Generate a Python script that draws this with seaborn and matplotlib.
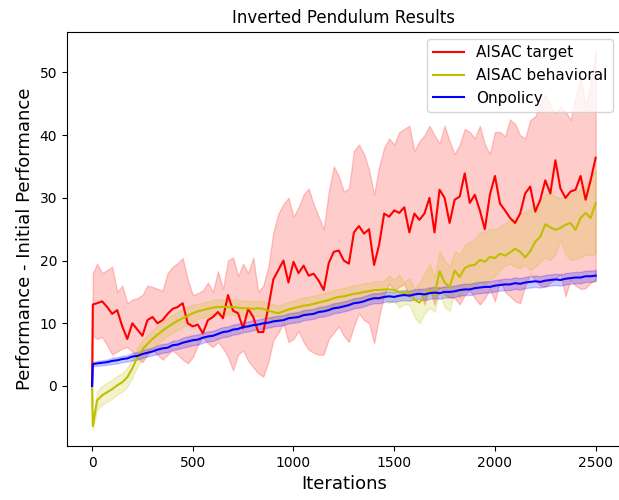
import numpy as np
import matplotlib
matplotlib.use("Agg")
import matplotlib.pyplot as plt
import seaborn as sns

# iteration grid (first point after the start is a tiny step to show the jump)
iters = [0, 4] + list(range(25, 2501, 25))

red_mean = [0, 13.0,
            13.2, 13.5, 12.6, 11.5, 12.1, 9.5, 7.5, 10.0, 9.0, 8.0,
            10.5, 11.0, 10.0, 10.5, 11.5, 12.3, 12.6, 13.2, 10.0, 9.5,
            9.8, 8.4, 10.5, 11.0, 11.8, 10.8, 14.5, 12.0, 11.6, 9.2,
            12.3, 11.0, 8.6, 8.6, 12.5, 17.0, 18.5, 20.0, 16.5, 19.8,
            18.0, 19.2, 17.6, 17.9, 16.8, 15.3, 19.6, 21.4, 21.6, 20.0,
            19.5, 24.5, 25.5, 24.3, 25.0, 19.3, 22.5, 27.5, 27.0, 28.0,
            27.6, 28.5, 24.5, 27.5, 26.5, 27.5, 30.0, 24.5, 31.3, 30.0,
            26.0, 29.7, 30.2, 33.9, 29.2, 30.5, 28.0, 25.0, 30.5, 33.5,
            29.1, 28.0, 26.8, 26.0, 27.5, 30.7, 31.8, 27.8, 29.7, 32.8,
            30.7, 36.0, 31.5, 30.0, 31.0, 31.3, 33.5, 29.7, 32.8, 36.4]
red_hi = [0, 18.0,
          19.5, 18.0, 18.5, 19.0, 15.0, 16.0, 13.2, 13.8, 14.0, 14.5,
          16.0, 15.8, 15.5, 15.2, 18.0, 19.0, 19.6, 20.4, 17.0, 14.5,
          14.8, 15.2, 16.5, 15.0, 18.3, 15.5, 20.0, 20.5, 17.5, 19.5,
          18.0, 20.5, 15.0, 16.0, 19.0, 24.5, 27.5, 29.0, 30.0, 27.0,
          28.5, 30.5, 31.5, 29.0, 27.0, 25.0, 31.0, 35.0, 33.5, 31.0,
          31.5, 37.5, 38.5, 37.0, 34.5, 30.5, 35.0, 38.0, 39.5, 38.5,
          40.5, 41.0, 41.5, 37.5, 39.0, 40.0, 41.5, 40.0, 38.7, 41.5,
          39.0, 37.0, 38.5, 41.0, 40.5, 39.5, 41.5, 38.5, 37.0, 40.5,
          40.5, 39.8, 42.5, 41.8, 40.0, 39.5, 42.4, 43.0, 45.0, 46.5,
          44.6, 43.5, 44.5, 43.8, 42.4, 46.0, 49.5, 44.6, 48.5, 53.5]
red_lo = [0, 8.0,
          7.5, 7.8, 6.5, 5.0, 5.5, 6.0, 6.2, 5.5, 4.5, 3.8,
          5.0, 5.7, 5.0, 4.2, 5.0, 5.7, 5.0, 4.2, 3.6, 4.6,
          6.5, 7.8, 6.8, 6.2, 7.0, 6.0, 4.6, 2.5, 5.0, 5.7,
          4.0, 3.0, 2.0, 1.5, 3.8, 7.3, 8.5, 10.0, 7.0, 7.5,
          8.8, 7.0, 5.8, 5.3, 5.0, 5.0, 7.5, 8.5, 9.5, 8.0,
          7.0, 9.5, 11.6, 10.5, 10.0, 6.8, 11.0, 14.5, 16.3, 15.3,
          15.8, 16.3, 14.2, 14.5, 15.3, 13.0, 15.8, 13.0, 15.8, 14.5,
          14.2, 14.0, 13.0, 14.5, 15.3, 14.0, 13.0, 14.0, 15.5, 13.5,
          16.9, 15.0, 14.3, 13.5, 13.2, 16.0, 17.9, 16.9, 16.0, 15.8,
          16.5, 17.0, 17.9, 14.3, 16.9, 16.0, 15.5, 15.6, 16.5, 16.9]

beh_mean = [0, -6.4,
            -2.3, -1.5, -1.0, -0.5, 0.1, 0.6, 1.4, 2.8, 4.6, 5.8,
            6.7, 7.5, 8.2, 8.8, 9.4, 9.9, 10.4, 10.8, 11.2, 11.6,
            11.9, 12.1, 12.3, 12.5, 12.6, 12.6, 12.6, 12.6, 12.5, 12.4,
            12.4, 12.3, 12.4, 12.3, 12.0, 11.8, 11.6, 11.9, 12.2, 12.4,
            12.6, 12.8, 12.9, 13.1, 13.3, 13.5, 13.7, 14.0, 14.2, 14.3,
            14.5, 14.7, 14.8, 15.0, 15.1, 15.3, 15.3, 15.4, 15.4, 15.3,
            15.0, 14.8, 15.0, 13.8, 13.3, 14.3, 15.3, 14.5, 18.3, 16.5,
            15.8, 18.4, 17.4, 18.8, 19.2, 19.3, 20.1, 19.8, 20.6, 20.4,
            21.1, 20.8, 21.3, 21.9, 21.4, 20.5, 21.5, 23.0, 23.8, 25.8,
            25.3, 24.9, 25.2, 25.7, 26.0, 24.9, 26.8, 27.6, 26.8, 29.2]
beh_hi = [0, -5.8,
          -0.8, 0.0, 0.5, 1.0, 1.6, 2.1, 2.9, 4.3, 6.1, 7.3,
          8.1, 8.9, 9.6, 10.2, 10.8, 11.3, 11.8, 12.2, 12.6, 13.0,
          13.1, 13.3, 13.5, 13.7, 13.8, 13.8, 13.8, 13.8, 13.7, 13.6,
          13.6, 13.5, 13.6, 13.5, 13.2, 13.0, 12.8, 13.1, 13.4, 13.6,
          13.9, 14.1, 14.2, 14.4, 14.6, 14.8, 15.0, 15.3, 15.5, 15.6,
          15.9, 16.1, 16.2, 16.4, 16.5, 16.7, 16.7, 16.8, 17.6, 16.9,
          17.8, 16.5, 17.2, 15.5, 16.5, 18.0, 19.5, 17.5, 21.5, 20.0,
          19.0, 21.5, 21.0, 22.5, 23.0, 23.5, 24.5, 24.5, 25.0, 25.0,
          25.4, 26.0, 26.5, 26.8, 27.5, 27.8, 28.2, 28.8, 29.5, 30.5,
          30.8, 30.2, 30.0, 30.2, 30.5, 31.0, 31.3, 32.0, 33.5, 34.4]
beh_lo = [0, -7.0,
          -3.8, -3.0, -2.5, -2.0, -1.4, -0.9, -0.1, 1.3, 3.1, 4.3,
          5.3, 6.1, 6.8, 7.4, 8.0, 8.5, 9.0, 9.4, 9.8, 10.2,
          10.7, 10.9, 11.1, 11.3, 11.4, 11.4, 11.4, 11.4, 11.3, 11.2,
          11.2, 11.1, 11.2, 11.1, 10.8, 10.6, 10.4, 10.7, 11.0, 11.2,
          11.3, 11.5, 11.6, 11.8, 12.0, 12.2, 12.4, 12.7, 12.9, 13.0,
          13.1, 13.3, 13.4, 13.6, 13.7, 13.9, 13.9, 14.0, 13.2, 13.7,
          12.5, 13.1, 13.0, 11.0, 10.0, 11.5, 12.5, 11.8, 15.0, 12.5,
          12.0, 15.3, 14.0, 15.5, 15.8, 16.0, 16.5, 16.2, 17.0, 17.5,
          18.5, 19.2, 19.5, 19.0, 18.8, 19.3, 18.5, 19.0, 19.8, 20.5,
          20.1, 21.0, 23.3, 21.0, 20.1, 20.2, 20.5, 21.0, 20.8, 21.2]

onp_mean = [0, 3.5,
            3.6, 3.7, 3.8, 4.0, 4.1, 4.3, 4.4, 4.7, 4.8, 5.1,
            5.3, 5.5, 5.8, 6.0, 6.1, 6.5, 6.6, 6.9, 7.1, 7.3,
            7.4, 7.7, 7.9, 8.0, 8.3, 8.6, 8.7, 9.0, 9.1, 9.4,
            9.5, 9.7, 9.8, 10.0, 10.1, 10.3, 10.4, 10.5, 10.8, 10.9,
            11.0, 11.3, 11.4, 11.5, 11.8, 11.9, 12.1, 12.4, 12.5, 12.7,
            12.9, 13.2, 13.3, 13.5, 13.8, 14.0, 14.0, 14.2, 14.3, 14.2,
            14.4, 14.5, 14.4, 14.6, 14.7, 14.6, 14.8, 14.9, 14.8, 15.0,
            15.0, 15.1, 15.3, 15.4, 15.4, 15.6, 15.7, 15.8, 15.8, 16.0,
            16.1, 16.2, 16.2, 16.4, 16.3, 16.5, 16.6, 16.7, 16.6, 16.8,
            16.9, 17.0, 16.9, 17.1, 17.2, 17.3, 17.3, 17.5, 17.5, 17.6]
onp_err = [0, 0.3,
           0.4, 0.4, 0.4, 0.5, 0.5, 0.5, 0.5, 0.6, 0.6, 0.6,
           0.6, 0.6, 0.7, 0.7, 0.7, 0.7, 0.7, 0.8, 0.8, 0.8,
           0.8, 0.8, 0.8, 0.8, 0.8, 0.8, 0.8, 0.8, 0.8, 0.8,
           0.8, 0.8, 0.8, 0.8, 0.8, 0.8, 0.8, 0.8, 0.8, 0.8,
           0.8, 0.8, 0.8, 0.8, 0.8, 0.8, 0.8, 0.8, 0.8, 0.8,
           0.8, 0.8, 0.8, 0.8, 0.8, 0.8, 0.8, 0.8, 0.8, 0.8,
           0.8, 0.8, 0.8, 0.8, 0.8, 0.9, 0.9, 0.9, 0.9, 0.9,
           0.9, 0.9, 0.9, 0.9, 0.9, 0.9, 0.9, 0.9, 0.9, 0.9,
           0.9, 0.9, 0.9, 0.9, 0.9, 0.9, 0.9, 0.9, 0.9, 0.9,
           0.9, 0.9, 0.9, 0.9, 0.9, 0.9, 0.9, 0.9, 0.9, 0.9]

series = [
    ("AISAC target", "r", red_mean, red_lo, red_hi),
    ("AISAC behavioral", "y", beh_mean, beh_lo, beh_hi),
    ("Onpolicy", "b", onp_mean,
     list(np.subtract(onp_mean, onp_err)), list(np.add(onp_mean, onp_err))),
]

fig, ax = plt.subplots(figsize=(6.19, 5.0), dpi=100)
fig.subplots_adjust(left=0.108, right=1.003, bottom=0.108, top=0.9366)

for name, col, mean, lo, hi in series:
    sns.lineplot(x=iters, y=mean, color=col, label=name, ax=ax)
    ax.fill_between(iters, lo, hi, color=col, alpha=0.2)

ax.set_xlim(-125, 2625)
ax.set_ylim(-9.57, 56.5)
ax.set_title("Inverted Pendulum Results")
ax.set_xlabel("Iterations", fontsize=13)
ax.set_ylabel("Performance - Initial Performance", fontsize=13)
ax.legend(loc="upper right", fontsize=11)

fig.savefig("out.png", dpi=100)
